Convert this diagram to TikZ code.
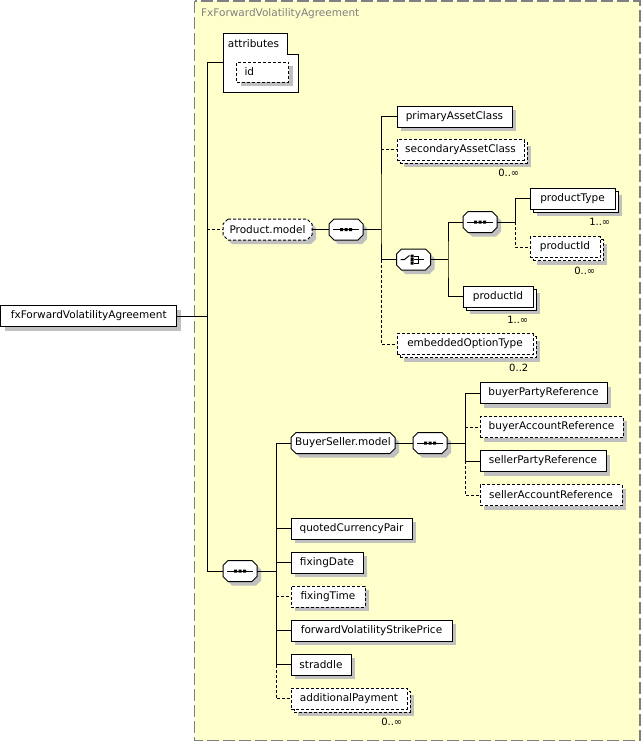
\documentclass[tikz,border=0pt]{standalone}
\usepackage{fontspec}
\setmainfont{DejaVu Sans}
\usetikzlibrary{shadows}
\definecolor{bgyellow}{RGB}{255,255,204}
\definecolor{bordergrey}{RGB}{128,128,128}
\definecolor{shadowc}{RGB}{192,192,192}
\tikzset{
  txt/.style={font=\fontsize{10.5}{12}\selectfont, inner sep=0pt, minimum height=21pt},
  base/.style={txt, draw=black, fill=white, line width=1pt},
  single/.style={base, drop shadow={shadow xshift=4pt,shadow yshift=-4pt,fill=shadowc,opacity=1}},
  multi/.style={base, drop shadow={shadow xshift=7pt,shadow yshift=-7pt,fill=shadowc,opacity=1}, copy shadow={shadow xshift=3pt,shadow yshift=-3pt,draw=black,fill=white,opacity=1}},
  optb/.style={dash pattern=on 3pt off 2pt},
  conn/.style={draw=black, line width=1pt},
  optc/.style={conn, dash pattern=on 3pt off 2pt},
  mult/.style={font=\fontsize{10}{12}\selectfont, inner sep=0pt, anchor=east},
}
\newcommand\octo[6]{%
  \pgfmathsetmacro\hw{#4/2}%
  \begin{scope}[shift={(#2,#3)}]
    \fill[shadowc] ({-\hw+9},-6.5) -- ({\hw-1},-6.5) -- ({\hw+4},-1.5) -- ({\hw+4},9.5) -- ({\hw-1},14.5) -- ({-\hw+9},14.5) -- ({-\hw+4},9.5) -- ({-\hw+4},-1.5) -- cycle;
    \draw[line width=1pt, fill=white, #5] ({-\hw+5},-10.5) -- ({\hw-5},-10.5) -- (\hw,-5.5) -- (\hw,5.5) -- ({\hw-5},10.5) -- ({-\hw+5},10.5) -- (-\hw,5.5) -- (-\hw,-5.5) -- cycle;
  \end{scope}
  \node[txt, minimum width=#4] (#1) at (#2,#3) {#6};}
\newcommand\seqicon[3]{%
  \octo{#1}{#2}{#3}{34}{}{}%
  \begin{scope}[shift={(#2,#3)}]
    \draw[line width=1pt] (-13,0) -- (13,0);
    \fill (-6,-1.5) rectangle ++(3,3) (-1.5,-1.5) rectangle ++(3,3) (3,-1.5) rectangle ++(3,3);
  \end{scope}}
\newcommand\choiceicon[3]{%
  \octo{#1}{#2}{#3}{34}{}{}%
  \begin{scope}[shift={(#2,#3)}]
    \draw[line width=1pt] (-13,0) -- (-9,0) -- (-4,-4);
    \fill (-3,-5) rectangle ++(3,3) (-3,-1.5) rectangle ++(3,3) (-3,2) rectangle ++(3,3);
    \draw[line width=1pt] (0,-3.5) -- (5,-3.5) -- (5,3.5) -- (0,3.5) (0,0) -- (10,0);
  \end{scope}}
\begin{document}
\begin{tikzpicture}[x=1pt,y=-1pt]
\useasboundingbox (0,0) rectangle (641,742);
\path[fill=bgyellow, draw=bordergrey, line width=1.5pt, dash pattern=on 12pt off 4pt] (194.5,1) rectangle (640,740.5);
\node[txt, anchor=west, text=bordergrey, minimum height=0pt] (title) at (201,14) {FxForwardVolatilityAgreement};

% root
\node[single, minimum width=176] (root) at (88.75,316) {fxForwardVolatilityAgreement};

% attributes
\draw[line width=1pt, fill=white] (223,33) -- (287,33) -- (287,54) -- (298,54) -- (298,92) -- (223,92) -- cycle;
\node[txt, minimum width=75, minimum height=59] (attr) at (260.5,62.5) {};
\node[txt] (attrlbl) at (253.5,43.5) {attributes};
\node[single, optb, minimum width=52, minimum height=20, text width=36, align=left, inner xsep=8pt, anchor=west] (id) at (236,72) {id};

% Product.model branch
\octo{pm}{267.5}{229.5}{89}{optb}{Product.model}
\seqicon{seqa}{346}{229.5}
\node[single, minimum width=115] (pac) at (454.5,116.5) {primaryAssetClass};
\node[multi, optb, minimum width=127] (sac) at (460.5,149.5) {secondaryAssetClass};
\choiceicon{ch}{413.5}{259.5}
\seqicon{seqb}{480}{222}
\node[multi, minimum width=85] (ptype) at (572.5,198.5) {productType};
\node[multi, optb, minimum width=70] (pida) at (565,247) {productId};
\node[multi, minimum width=70] (pidb) at (498,296.5) {productId};
\node[multi, optb, minimum width=136] (eot) at (465,344) {embeddedOptionType};

\node[mult] (msac) at ([xshift=-5pt,yshift=-12.5pt]sac.south east) {0..∞};
\node[mult] (mptype) at ([xshift=-5pt,yshift=-12.5pt]ptype.south east) {1..∞};
\node[mult] (mpida) at ([xshift=-5pt,yshift=-12.5pt]pida.south east) {0..∞};
\node[mult] (mpidb) at ([xshift=-5pt,yshift=-12.5pt]pidb.south east) {1..∞};
\node[mult] (meot) at ([xshift=-5pt,yshift=-12.5pt]eot.south east) {0..2};

% main sequence branch
\seqicon{seqm}{240}{571}
\octo{bs}{343}{443}{104}{}{BuyerSeller.model}
\seqicon{seqbs}{430}{443}
\node[single, minimum width=127] (bpr) at (543.5,393) {buyerPartyReference};
\node[single, optb, minimum width=143] (bar) at (551.5,427) {buyerAccountReference};
\node[single, minimum width=126] (spr) at (543,461) {sellerPartyReference};
\node[single, optb, minimum width=142] (sar) at (551,495) {sellerAccountReference};
\node[single, minimum width=121] (qcp) at (351.5,528.5) {quotedCurrencyPair};
\node[single, minimum width=72] (fd) at (327,562.5) {fixingDate};
\node[single, optb, minimum width=74] (ft) at (328,596.5) {fixingTime};
\node[single, minimum width=161] (fvsp) at (371.5,630.5) {forwardVolatilityStrikePrice};
\node[single, minimum width=60] (str) at (321,664.5) {straddle};
\node[multi, optb, minimum width=116] (ap) at (349,698.5) {additionalPayment};
\node[mult] (map) at ([xshift=-5pt,yshift=-12.5pt]ap.south east) {0..∞};

% connectors
\coordinate (t1) at (207,316);
\draw[conn] (root.east) -- (t1);
\draw[conn] (attr.west) -| (t1 |- seqm.west) -- (seqm.west);
\draw[optc] (t1 |- pm.west) -- (pm.west);

\coordinate (t2) at (381,229.5);
\draw[conn] (pm.east) -- (seqa.west);
\draw[conn] (seqa.east) -- (t2);
\draw[conn] (pac.west) -| (t2) |- (ch.west);
\draw[optc] (t2 |- sac.west) -- (sac.west);
\draw[optc] (t2 |- ch.west) |- (eot.west);

\coordinate (t3) at (448,259.5);
\draw[conn] (ch.east) -- (t3);
\draw[conn] (seqb.west) -| (t3) |- (pidb.west);

\coordinate (t4) at (515,222);
\draw[conn] (seqb.east) -- (t4);
\draw[conn] (ptype.west) -| (t4);
\draw[optc] (t4) |- (pida.west);

\coordinate (t5) at (276,571);
\draw[conn] (seqm.east) -- (t5);
\draw[conn] (bs.west) -| (t5 |- str.west) -- (str.west);
\draw[conn] (t5 |- qcp.west) -- (qcp.west);
\draw[conn] (t5 |- fd.west) -- (fd.west);
\draw[optc] (t5 |- ft.west) -- (ft.west);
\draw[conn] (t5 |- fvsp.west) -- (fvsp.west);
\draw[optc] (t5 |- str.west) |- (ap.west);

\coordinate (t6) at (465,443);
\draw[conn] (bs.east) -- (seqbs.west);
\draw[conn] (seqbs.east) -- (t6);
\draw[conn] (bpr.west) -| (t6 |- spr.west) -- (spr.west);
\draw[optc] (t6 |- bar.west) -- (bar.west);
\draw[optc] (t6 |- spr.west) |- (sar.west);
\end{tikzpicture}
\end{document}
